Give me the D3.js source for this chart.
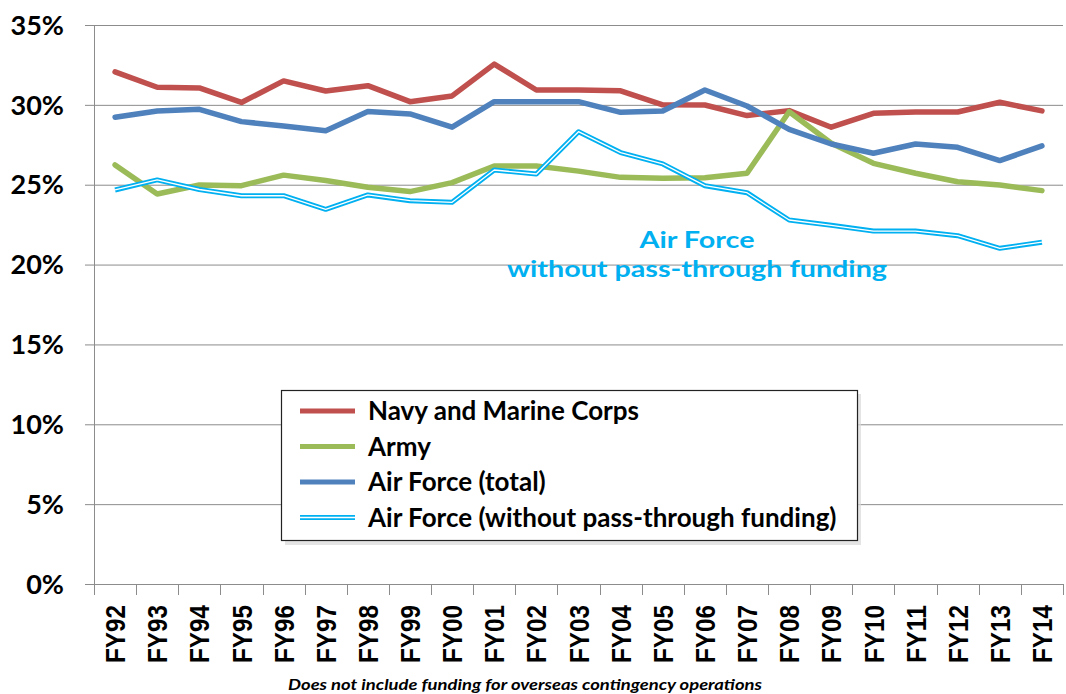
<!DOCTYPE html>
<html><head><meta charset="utf-8">
<script src="https://cdn.jsdelivr.net/npm/d3@7"></script>
<style>body{margin:0;background:#fff}svg{display:block}</style>
</head><body><svg id="c" width="1066" height="694"></svg>
<script>
const categories = ["FY92","FY93","FY94","FY95","FY96","FY97","FY98","FY99","FY00","FY01","FY02","FY03","FY04","FY05","FY06","FY07","FY08","FY09","FY10","FY11","FY12","FY13","FY14"];
const navy = [32.06,31.1,31.06,30.15,31.5,30.87,31.2,30.2,30.56,32.55,30.93,30.93,30.88,30.0,29.99,29.33,29.64,28.6,29.47,29.55,29.55,30.16,29.62];
const army = [26.24,24.42,24.98,24.94,25.6,25.26,24.84,24.57,25.13,26.17,26.17,25.85,25.46,25.4,25.43,25.72,29.57,27.6,26.34,25.72,25.19,24.98,24.63];
const airTotal = [29.23,29.62,29.72,28.95,28.68,28.38,29.58,29.43,28.6,30.2,30.2,30.2,29.53,29.62,30.93,29.93,28.47,27.55,26.97,27.55,27.34,26.51,27.43];
const airNoPass = [24.67,25.3,24.7,24.31,24.31,23.46,24.36,24.0,23.9,25.92,25.67,28.32,27.01,26.3,24.94,24.5,22.79,22.46,22.1,22.1,21.81,21.02,21.4];
const yTicks = [0,5,10,15,20,25,30,35];
const seriesNames = ["Navy and Marine Corps","Army","Air Force (total)","Air Force (without pass-through funding)"];
const colors = ["#C0504D","#9BBB59","#4F81BD","#00B0F0"];
const annotation = ["Air Force","without pass-through funding"];
const footnote = "Does not include funding for overseas contingency operations";

const svg = d3.select("#c");
const L=94, R=1063, T=25, B=584;
const x = d3.scaleBand().domain(categories).range([L,R]);
const y = d3.scaleLinear().domain([0,35]).range([B,T]);
const font = "Lato, 'Liberation Sans', sans-serif";

// gridlines
svg.append("g").selectAll("line").data(yTicks).join("line")
  .attr("x1",85).attr("x2",R).attr("y1",d=>y(d)+0.5).attr("y2",d=>y(d)+0.5)
  .attr("stroke","#8c8c8c").attr("stroke-width",1);
// y axis line
svg.append("line").attr("x1",L+0.5).attr("x2",L+0.5).attr("y1",T).attr("y2",B+0.5).attr("stroke","#8c8c8c");
// y labels
svg.append("g").selectAll("text").data(yTicks).join("text")
  .attr("x",64).attr("y",d=>y(d)).attr("dy","0.36em").attr("text-anchor","end")
  .attr("font-family",font).attr("font-weight","bold").attr("font-size",27).attr("fill","#000")
  .text(d=>d+"%");
// x ticks at band boundaries
const bounds = categories.map(c=>x(c)).concat([R]);
svg.append("g").selectAll("line").data(bounds).join("line")
  .attr("x1",d=>Math.round(d)+0.5).attr("x2",d=>Math.round(d)+0.5).attr("y1",B).attr("y2",B+11)
  .attr("stroke","#8c8c8c");
// x labels
svg.append("g").selectAll("text").data(categories).join("text")
  .attr("transform",d=>`translate(${x(d)+x.bandwidth()/2},${605}) rotate(-90)`)
  .attr("dy","0.36em").attr("text-anchor","end")
  .attr("font-family","'Liberation Sans', Arial, sans-serif").attr("font-weight","bold").attr("font-size",28).attr("fill","#000")
  .attr("textLength",58).attr("lengthAdjust","spacingAndGlyphs")
  .text(d=>d);

const line = d3.line().x((d,i)=>x(categories[i])+x.bandwidth()/2).y(d=>y(d)).curve(d3.curveLinear);
const allSeries=[navy,army,airTotal];
allSeries.forEach((s,k)=>{
  svg.append("path").datum(s).attr("d",line).attr("fill","none").attr("stroke",colors[k])
    .attr("stroke-width",5.5).attr("stroke-linejoin","round").attr("stroke-linecap","round");
});
svg.append("path").datum(airNoPass).attr("d",line).attr("fill","none").attr("stroke",colors[3]).attr("stroke-width",5).attr("stroke-linejoin","round");
svg.append("path").datum(airNoPass).attr("d",line).attr("fill","none").attr("stroke","#fff").attr("stroke-width",1.3).attr("stroke-linejoin","round");

// annotation
const annLen=[115,380];
svg.append("g").selectAll("text").data(annotation).join("text")
  .attr("x",697).attr("y",(d,i)=>248+i*29).attr("text-anchor","middle")
  .attr("font-family",font).attr("font-weight","bold").attr("font-size",23).attr("fill","#00B0F0")
  .attr("textLength",(d,i)=>annLen[i]).attr("lengthAdjust","spacingAndGlyphs")
  .text(d=>d);

// legend
const lg = svg.append("g");
lg.append("rect").attr("x",285).attr("y",394).attr("width",576).attr("height",151).attr("fill","#d8d8d8").attr("opacity",0.7);
lg.append("rect").attr("x",281.5).attr("y",390.5).attr("width",576).attr("height",150).attr("fill","#fff").attr("stroke","#222").attr("stroke-width",1.2);
seriesNames.forEach((n,k)=>{
  const yy = 411 + k*35.5;
  lg.append("line").attr("x1",300).attr("x2",355).attr("y1",yy).attr("y2",yy).attr("stroke",colors[k]).attr("stroke-width",5);
  if(k===3) lg.append("line").attr("x1",300).attr("x2",355).attr("y1",yy).attr("y2",yy).attr("stroke","#fff").attr("stroke-width",1.3);
  lg.append("text").attr("x",368).attr("y",yy).attr("dy","0.36em").attr("font-family",font).attr("font-weight","bold").attr("font-size",26).attr("fill","#000").text(n);
});

svg.append("text").attr("x",525).attr("y",690).attr("text-anchor","middle").attr("font-family",font)
  .attr("font-weight","bold").attr("font-style","italic").attr("font-size",16).attr("fill","#000")
  .attr("textLength",474).attr("lengthAdjust","spacingAndGlyphs").text(footnote);
</script></body></html>
